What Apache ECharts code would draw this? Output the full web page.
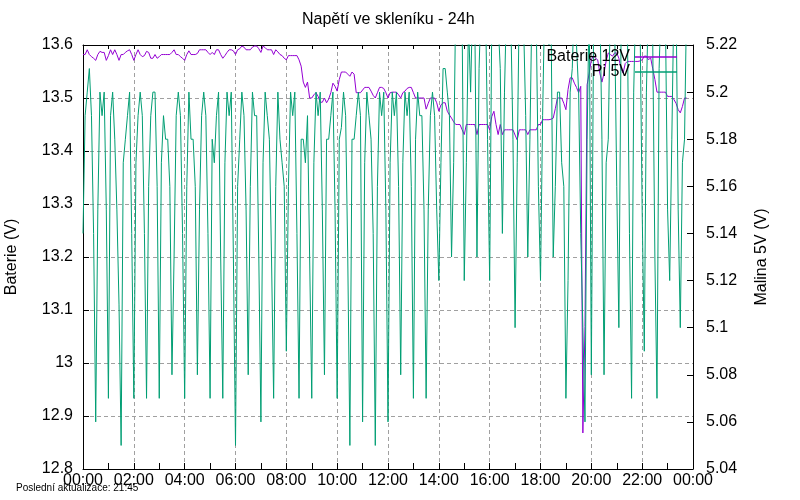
<!DOCTYPE html>
<html>
<head>
<meta charset="utf-8">
<title>Napětí ve skleníku - 24h</title>
<script src="https://cdn.jsdelivr.net/npm/echarts@6/dist/echarts.min.js"></script>
<style>
  html, body { margin: 0; padding: 0; background: #fff; }
  #chart { width: 800px; height: 500px; }
</style>
</head>
<body>
<div id="chart"></div>
<script>
// jeden vzorek každých 5 minut od 00:00
var stepMinutes = 5;

var xTickLabels = ['00:00', '02:00', '04:00', '06:00', '08:00', '10:00', '12:00',
                   '14:00', '16:00', '18:00', '20:00', '22:00', '00:00'];

// Baterie 12V (levá osa)
var baterie = [
  13.582, 13.582, 13.591, 13.582, 13.578, 13.575,
  13.571, 13.582, 13.588, 13.586, 13.586, 13.571,
  13.580, 13.591, 13.582, 13.591, 13.582, 13.571,
  13.582, 13.582, 13.586, 13.589, 13.591, 13.582,
  13.571, 13.582, 13.591, 13.582, 13.578, 13.580,
  13.588, 13.586, 13.575, 13.575, 13.582, 13.575,
  13.578, 13.582, 13.582, 13.582, 13.582, 13.582,
  13.586, 13.591, 13.582, 13.582, 13.578, 13.575,
  13.571, 13.582, 13.589, 13.582, 13.582, 13.582,
  13.584, 13.591, 13.591, 13.591, 13.591, 13.586,
  13.582, 13.586, 13.582, 13.591, 13.591, 13.582,
  13.575, 13.580, 13.586, 13.591, 13.591, 13.589,
  13.582, 13.591, 13.593, 13.598, 13.596, 13.591,
  13.591, 13.591, 13.596, 13.598, 13.598, 13.593,
  13.586, 13.598, 13.595, 13.591, 13.591, 13.591,
  13.582, 13.591, 13.587, 13.582, 13.580, 13.575,
  13.572, 13.580, 13.580, 13.580, 13.580, 13.580,
  13.572, 13.560, 13.530, 13.520, 13.530, 13.500,
  13.500, 13.506, 13.510, 13.503, 13.492, 13.492,
  13.500, 13.491, 13.498, 13.510, 13.528, 13.522,
  13.513, 13.535, 13.549, 13.549, 13.549, 13.545,
  13.541, 13.549, 13.545, 13.510, 13.510, 13.510,
  13.515, 13.520, 13.520, 13.520, 13.513, 13.505,
  13.500, 13.510, 13.520, 13.520, 13.518, 13.510,
  13.500, 13.510, 13.511, 13.511, 13.511, 13.506,
  13.500, 13.510, 13.513, 13.518, 13.520, 13.520,
  13.510, 13.500, 13.500, 13.500, 13.500, 13.500,
  13.479, 13.490, 13.500, 13.500, 13.500, 13.491,
  13.475, 13.487, 13.491, 13.491, 13.475, 13.468,
  13.462, 13.455, 13.450, 13.450, 13.450, 13.440,
  13.431, 13.450, 13.450, 13.450, 13.450, 13.450,
  13.431, 13.450, 13.450, 13.450, 13.450, 13.450,
  13.440, 13.465, 13.475, 13.450, 13.431, 13.450,
  13.431, 13.440, 13.440, 13.440, 13.440, 13.440,
  13.430, 13.421, 13.440, 13.440, 13.440, 13.440,
  13.431, 13.440, 13.440, 13.440, 13.440, 13.450,
  13.450, 13.459, 13.459, 13.459, 13.459, 13.460,
  13.462, 13.480, 13.500, 13.500, 13.500, 13.490,
  13.478, 13.516, 13.538, 13.538, 13.528, 13.520,
  13.510, 13.522, 12.868, 13.069, 13.525, 13.547,
  13.572, 13.580, 13.575, 13.572, 13.547, 13.530,
  13.547, 13.570, 13.585, 13.582, 13.579, 13.585,
  13.585, 13.575, 13.555, 13.547, 13.565, 13.569,
  13.569, 13.569, 13.569, 13.569, 13.569, 13.570,
  13.572, 13.579, 13.579, 13.572, 13.576, 13.555,
  13.535, 13.511, 13.511, 13.511, 13.511, 13.511,
  13.503, 13.503, 13.503, 13.497, 13.490, 13.478,
  13.472, 13.484, 13.500, 13.500
];

// Pi 5V (pravá osa)
var malina = [
  5.14, 5.19, 5.20, 5.21, 5.19, 5.14,
  5.06, 5.15, 5.20, 5.19, 5.20, 5.15,
  5.07, 5.19, 5.20, 5.18, 5.15, 5.11,
  5.05, 5.17, 5.18, 5.19, 5.20, 5.14,
  5.07, 5.17, 5.19, 5.20, 5.19, 5.14,
  5.07, 5.16, 5.19, 5.20, 5.20, 5.16,
  5.07, 5.17, 5.19, 5.18, 5.18, 5.16,
  5.08, 5.13, 5.19, 5.20, 5.19, 5.14,
  5.07, 5.16, 5.20, 5.18, 5.18, 5.16,
  5.08, 5.15, 5.19, 5.20, 5.19, 5.14,
  5.07, 5.18, 5.17, 5.19, 5.20, 5.13,
  5.07, 5.17, 5.20, 5.19, 5.20, 5.13,
  5.05, 5.16, 5.18, 5.20, 5.19, 5.15,
  5.08, 5.16, 5.20, 5.19, 5.19, 5.13,
  5.06, 5.17, 5.20, 5.19, 5.18, 5.13,
  5.07, 5.16, 5.20, 5.18, 5.17, 5.16,
  5.09, 5.16, 5.20, 5.19, 5.20, 5.14,
  5.07, 5.18, 5.18, 5.17, 5.19, 5.13,
  5.07, 5.17, 5.20, 5.19, 5.20, 5.15,
  5.08, 5.18, 5.18, 5.19, 5.20, 5.15,
  5.07, 5.18, 5.185, 5.20, 5.19, 5.13,
  5.05, 5.18, 5.18, 5.19, 5.20, 5.19,
  5.06, 5.17, 5.20, 5.19, 5.18, 5.14,
  5.05, 5.16, 5.20, 5.19, 5.20, 5.15,
  5.06, 5.17, 5.20, 5.19, 5.20, 5.16,
  5.08, 5.17, 5.20, 5.19, 5.20, 5.16,
  5.07, 5.18, 5.20, 5.19, 5.19, 5.15,
  5.07, 5.15, 5.19, 5.20, 5.19, 5.15,
  5.12, 5.17, 5.21, 5.21, 5.20, 5.19,
  5.13, 5.17, 5.24, 5.24, 5.24, 5.23,
  5.12, 5.17, 5.23, 5.20, 5.24, 5.23,
  5.13, 5.21, 5.24, 5.23, 5.24, 5.18,
  5.12, 5.23, 5.24, 5.24, 5.23, 5.21,
  5.14, 5.20, 5.24, 5.24, 5.23, 5.18,
  5.10, 5.17, 5.24, 5.24, 5.23, 5.19,
  5.13, 5.18, 5.24, 5.24, 5.23, 5.16,
  5.12, 5.19, 5.24, 5.23, 5.22, 5.23,
  5.13, 5.16, 5.20, 5.20, 5.17, 5.16,
  5.07, 5.12, 5.20, 5.21, 5.24, 5.22,
  5.20, 5.14, 5.10, 5.06, 5.18, 5.24,
  5.08, 5.22, 5.24, 5.23, 5.24, 5.18,
  5.08, 5.17, 5.18, 5.24, 5.24, 5.23,
  5.16, 5.10, 5.22, 5.24, 5.24, 5.23,
  5.14, 5.07, 5.20, 5.24, 5.24, 5.23,
  5.15, 5.09, 5.20, 5.24, 5.24, 5.22,
  5.13, 5.07, 5.21, 5.24, 5.24, 5.23,
  5.15, 5.12, 5.18, 5.24, 5.24, 5.15,
  5.10, 5.17, 5.18, 5.24
];

function toPoints(values) {
  return values.map(function (v, i) { return [i * stepMinutes, v]; });
}

var chart = echarts.init(document.getElementById('chart'));

var black = '#000';
var gridLine = { show: true, lineStyle: { color: '#a0a0a0', type: [4, 3], width: 1 } };

var option = {
  animation: false,
  backgroundColor: '#fff',
  textStyle: { fontFamily: 'Liberation Sans', color: black },
  title: [
    {
      text: 'Napětí ve skleníku - 24h',
      left: 302, top: 12, padding: 0,
      textStyle: { fontSize: 16, fontWeight: 'normal', color: black }
    },
    {
      text: 'Poslední aktualizace: 21:45',
      left: 16, top: 483, padding: 0,
      textStyle: { fontSize: 10, fontWeight: 'normal', color: black }
    }
  ],
  legend: [
    {
      data: ['Baterie 12V'], right: 123, top: 49, padding: 0,
      align: 'right', icon: 'rect', itemWidth: 42, itemHeight: 1.5,
      selectedMode: false, textStyle: { fontSize: 16, color: black }
    },
    {
      data: ['Pi 5V'], right: 123, top: 64, padding: 0,
      align: 'right', icon: 'rect', itemWidth: 42, itemHeight: 1.5,
      selectedMode: false, textStyle: { fontSize: 16, color: black }
    }
  ],
  grid: { left: 83, right: 107, top: 45, bottom: 31, outerBoundsMode: 'none' },
  xAxis: [
    {
      type: 'value', min: 0, max: 1440, interval: 120,
      axisLine: { onZero: false, lineStyle: { color: black } },
      axisTick: { inside: true, length: 6, lineStyle: { color: black } },
      minorTick: { show: true, splitNumber: 2, length: 6, lineStyle: { color: black } },
      splitLine: gridLine,
      axisLabel: {
        fontSize: 16, color: black, margin: 4,
        formatter: function (v) { return xTickLabels[Math.round(v / 120)]; }
      }
    },
    {
      type: 'value', position: 'top', min: 0, max: 1440, interval: 120,
      axisLine: { onZero: false, lineStyle: { color: black } },
      axisTick: { inside: true, length: 4, lineStyle: { color: black } },
      minorTick: { show: true, splitNumber: 2, length: 4, lineStyle: { color: black } },
      splitLine: { show: false },
      axisLabel: { show: false }
    }
  ],
  yAxis: [
    {
      type: 'value', position: 'left', min: 12.8, max: 13.6, interval: 0.1,
      name: 'Baterie (V)', nameLocation: 'middle', nameGap: 63, nameRotate: 90,
      nameTextStyle: { fontSize: 16, color: black },
      axisLine: { show: true, onZero: false, lineStyle: { color: black } },
      axisTick: { show: true, inside: true, length: 6, lineStyle: { color: black } },
      splitLine: gridLine,
      axisLabel: { fontSize: 16, color: black, margin: 10 }
    },
    {
      type: 'value', position: 'right', min: 5.04, max: 5.22, interval: 0.02,
      name: 'Malina 5V (V)', nameLocation: 'middle', nameGap: 61, nameRotate: 90,
      nameTextStyle: { fontSize: 16, color: black },
      axisLine: { show: true, onZero: false, lineStyle: { color: black } },
      axisTick: { show: true, inside: true, length: 6, lineStyle: { color: black } },
      splitLine: { show: false },
      axisLabel: { fontSize: 16, color: black, margin: 13 }
    }
  ],
  series: [
    {
      name: 'Baterie 12V', type: 'line', xAxisIndex: 0, yAxisIndex: 0,
      data: toPoints(baterie),
      showSymbol: false, symbol: 'none',
      itemStyle: { color: '#9400d3' },
      lineStyle: { color: '#9400d3', width: 1 }
    },
    {
      name: 'Pi 5V', type: 'line', xAxisIndex: 0, yAxisIndex: 1,
      data: toPoints(malina),
      showSymbol: false, symbol: 'none',
      itemStyle: { color: '#009e73' },
      lineStyle: { color: '#009e73', width: 1 }
    }
  ]
};

chart.setOption(option);
</script>
</body>
</html>
